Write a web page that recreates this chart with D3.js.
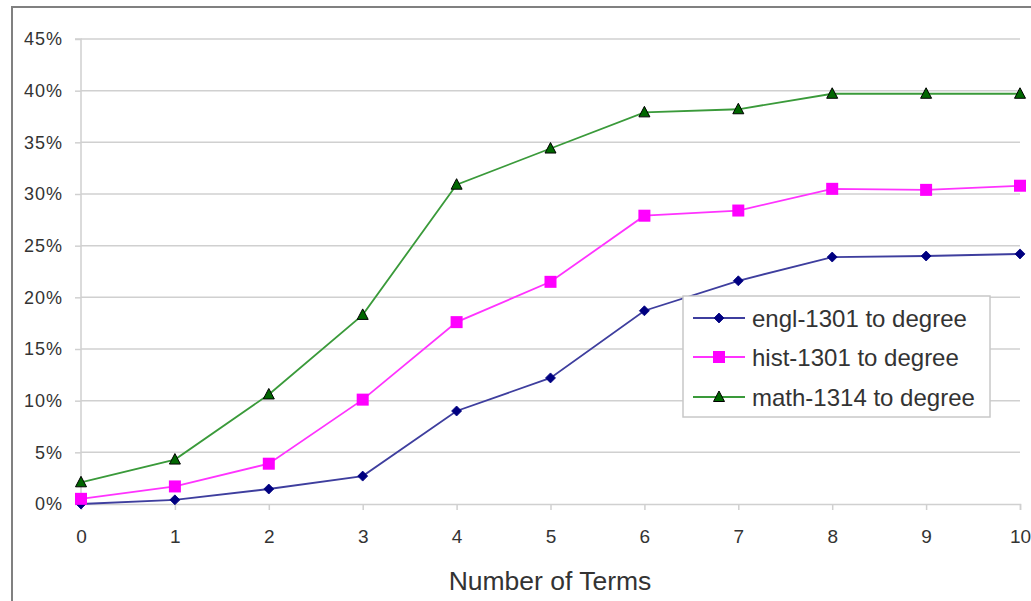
<!DOCTYPE html>
<html><head><meta charset="utf-8">
<script src="https://cdn.jsdelivr.net/npm/d3@7"></script>
<style>body{margin:0;background:#fff}svg{display:block}text{font-family:"Liberation Sans",Arial,sans-serif}</style>
</head><body>
<svg id="c" width="1031" height="601"></svg>
<script>
const terms = [0,1,2,3,4,5,6,7,8,9,10];
const yTicks = [0,0.05,0.10,0.15,0.20,0.25,0.30,0.35,0.40,0.45];
const engl = [0.000,0.004,0.0145,0.027,0.090,0.122,0.187,0.216,0.239,0.240,0.242];
const hist = [0.005,0.017,0.039,0.101,0.176,0.215,0.279,0.284,0.305,0.304,0.308];
const math = [0.021,0.043,0.106,0.183,0.309,0.344,0.379,0.382,0.397,0.397,0.397];
const seriesNames = ["engl-1301 to degree","hist-1301 to degree","math-1314 to degree"];

const svg = d3.select("#c");
const x = d3.scaleLinear().domain([0,10]).range([81,1020]);
const y = d3.scaleLinear().domain([0,0.45]).range([504,39]);

// outer frame
svg.append("rect").attr("x",12).attr("y",7).attr("width",1030).attr("height",600)
  .attr("fill","none").attr("stroke","#808080").attr("stroke-width",2);

// gridlines
svg.append("g").selectAll("line").data(yTicks.filter(d=>d>0)).join("line")
  .attr("x1",x(0)).attr("x2",x(10)).attr("y1",d=>y(d)).attr("y2",d=>y(d))
  .attr("stroke","#d0d0d0").attr("stroke-width",1.5);

// y axis
const ya = svg.append("g").attr("transform",`translate(${x(0)},0)`)
  .call(d3.axisLeft(y).tickValues(yTicks).tickFormat(d3.format(".0%")).tickSize(6).tickPadding(12));
ya.select(".domain").attr("stroke","#d0d0d0").attr("stroke-width",1.5).attr("d",`M-6,${y(0.45)}H0V${y(0)}`);
ya.selectAll(".tick line").attr("stroke","#d0d0d0").attr("stroke-width",1.5);
ya.selectAll(".tick text").attr("fill","#333").attr("font-size",18).attr("letter-spacing","1px").attr("font-family","Liberation Sans, Arial, sans-serif");

// x axis
const xa = svg.append("g").attr("transform",`translate(0,${y(0)})`)
  .call(d3.axisBottom(x).tickValues(terms).tickFormat(d3.format("d")).tickSize(6).tickPadding(20));
xa.select(".domain").attr("stroke","#d0d0d0").attr("stroke-width",1.5);
xa.selectAll(".tick line").attr("stroke","#d0d0d0").attr("stroke-width",1.5);
xa.selectAll(".tick text").attr("fill","#333").attr("font-size",19).attr("font-family","Liberation Sans, Arial, sans-serif");

svg.append("text").attr("x",550).attr("y",590).attr("text-anchor","middle")
  .attr("font-size",26.5).attr("fill","#333").text("Number of Terms");

const line = d3.line().x((d,i)=>x(terms[i])).y(d=>y(d));
const cfg = [
  {data:engl, line:"#3e3e9e", fill:"#000080", stroke:"#000080", shape:"diamond"},
  {data:hist, line:"#ff33ff", fill:"#ff00ff", stroke:"#ff00ff", shape:"square"},
  {data:math, line:"#3a9a3a", fill:"#006600", stroke:"#000000", shape:"triangle"}
];
function marker(g, shape, fill, stroke){
  if(shape==="diamond") g.append("path").attr("d","M0,-5L5,0L0,5L-5,0Z").attr("fill",fill).attr("stroke",stroke).attr("stroke-width",0.8);
  if(shape==="square") g.append("rect").attr("x",-6).attr("y",-6).attr("width",12).attr("height",12).attr("fill",fill);
  if(shape==="triangle") g.append("path").attr("d","M0,-6L5.5,4.5L-5.5,4.5Z").attr("fill",fill).attr("stroke",stroke).attr("stroke-width",1);
}
cfg.forEach(c=>{
  svg.append("path").attr("d",line(c.data)).attr("fill","none").attr("stroke",c.line).attr("stroke-width",1.8);
});
cfg.forEach(c=>{
  c.data.forEach((v,i)=>{
    const g = svg.append("g").attr("transform",`translate(${x(terms[i])},${y(v)})`);
    marker(g,c.shape,c.fill,c.stroke);
  });
});

// legend
const lg = svg.append("g");
lg.append("rect").attr("x",683).attr("y",296).attr("width",307).attr("height",121)
  .attr("fill","#fff").attr("stroke","#c8c8c8").attr("stroke-width",1.5);
const ly = [318,357,397];
cfg.forEach((c,i)=>{
  lg.append("line").attr("x1",693).attr("x2",745).attr("y1",ly[i]).attr("y2",ly[i]).attr("stroke",c.line).attr("stroke-width",1.8);
  const g = lg.append("g").attr("transform",`translate(719,${ly[i]})`);
  marker(g,c.shape,c.fill,c.stroke);
  lg.append("text").attr("x",752).attr("y",ly[i]+8.5).attr("font-size",24).attr("fill","#333").text(seriesNames[i]);
});
</script>
</body></html>
